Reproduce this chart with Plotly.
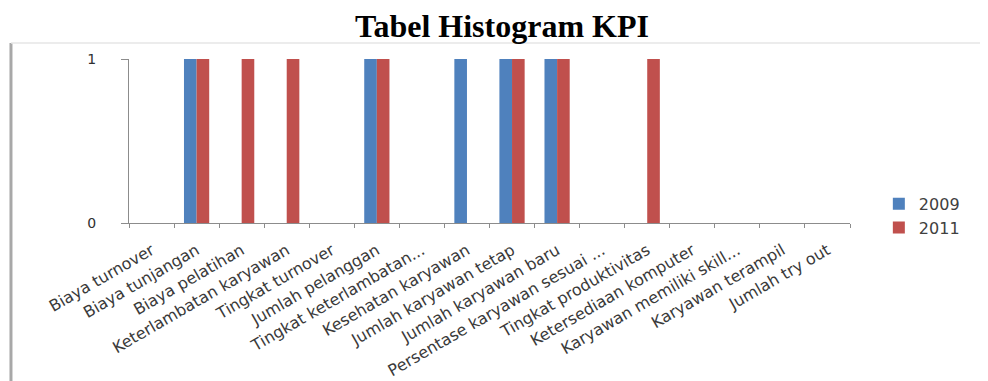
import plotly.graph_objects as go

categories = [
    "Biaya turnover", "Biaya tunjangan", "Biaya pelatihan", "Keterlambatan karyawan",
    "Tingkat turnover", "Jumlah pelanggan", "Tingkat keterlambatan...", "Kesehatan karyawan",
    "Jumlah karyawan tetap", "Jumlah karyawan baru", "Persentase karyawan sesuai ...",
    "Tingkat produktivitas", "Ketersediaan komputer", "Karyawan memiliki skill...",
    "Karyawan terampil", "Jumlah try out",
]
values_2009 = [0, 1, 0, 0, 0, 1, 0, 1, 1, 1, 0, 0, 0, 0, 0, 0]
values_2011 = [0, 1, 1, 1, 0, 1, 0, 0, 1, 1, 0, 1, 0, 0, 0, 0]
y_ticks = [0, 1]

fig = go.Figure()
fig.add_trace(go.Bar(x=categories, y=values_2009, name="2009", marker_color="#4F81BD",
                     marker_line_width=0))
fig.add_trace(go.Bar(x=categories, y=values_2011, name="2011", marker_color="#C0504D",
                     marker_line_width=0))

fig.update_layout(
    width=988, height=381,
    margin=dict(l=121, r=146, t=51, b=166, autoexpand=False),
    paper_bgcolor="white", plot_bgcolor="white",
    barmode="group", bargap=0.44, bargroupgap=0,
    title=dict(text="<b>Tabel Histogram KPI</b>", x=0.5, xanchor="center",
               xref="container", yref="container", y=0.953, yanchor="middle",
               font=dict(family="Liberation Serif", size=32, color="black")),
    legend=dict(x=1.04, xanchor="left", y=0.22, yanchor="top",
                font=dict(family="DejaVu Sans", size=16, color="#404040"),
                itemwidth=30, bgcolor="rgba(0,0,0,0)"),
    showlegend=True,
)
fig.update_xaxes(
    type="category", showgrid=False, showline=True, linecolor="#8c8c8c", linewidth=1,
    ticks="outside", tickson="boundaries", ticklen=4, tickcolor="#8c8c8c",
    tickangle=-30, tickfont=dict(family="DejaVu Sans", size=16, color="#3a3a3a"),
    ticklabelstandoff=11, automargin=False,
)
fig.update_yaxes(
    range=[0, 1], tickvals=y_ticks, ticktext=[str(v) for v in y_ticks],
    showgrid=False, zeroline=False, showline=True, linecolor="#8c8c8c", linewidth=1,
    ticks="outside", ticklen=7, tickcolor="#8c8c8c",
    tickfont=dict(family="DejaVu Sans", size=14, color="#303030"),
    ticklabelstandoff=22, automargin=False,
)
# chart frame
fig.add_shape(type="line", xref="paper", yref="paper", x0=-0.1637, x1=-0.1637,
              y0=1.098, y1=-1.2, line=dict(color="#a8a8a8", width=3))
fig.add_shape(type="line", xref="paper", yref="paper", x0=-0.1637, x1=1.2,
              y0=1.098, y1=1.098, line=dict(color="#e6e6e6", width=1.5))

fig.write_html("out.html")
